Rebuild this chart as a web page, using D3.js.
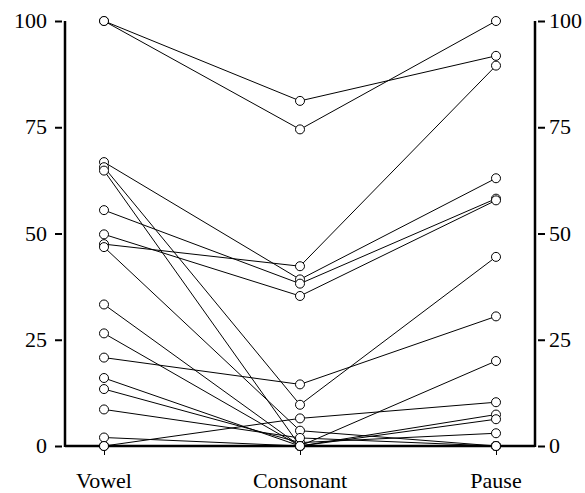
<!DOCTYPE html>
<html><head><meta charset="utf-8">
<script src="https://cdn.jsdelivr.net/npm/d3@7"></script>
</head>
<body style="margin:0;background:#fff"><svg id="c" width="585" height="493"></svg>
<script>
const categories = ["Vowel","Consonant","Pause"];
const vowel     = [100, 100, 66.8, 65.6, 64.8, 55.5, 49.8, 47.5, 46.8, 33.3, 26.5, 20.8, 16, 13.4, 8.6, 2, 0, 0, 0];
const consonant = [81.2, 74.5, 39.2, 9.7, 0, 38.2, 35.3, 42.3, 3.6, 0, 0, 14.5, 0, 0.8, 1.9, 0, 6.5, 0, 0];
const pause     = [91.8, 100, 63, 44.5, 0, 58.2, 57.8, 89.5, 0, 20, 7.4, 30.5, 6.3, 3, 0, 0, 10.3, 0, 0];
const tickValues = [0, 25, 50, 75, 100];

const FONT = "Liberation Serif";
const rows = vowel.map((v,i)=>[v, consonant[i], pause[i]]);
const svg = d3.select("#c");
const x = d3.scalePoint().domain(categories).range([104, 496]);
const y = d3.scaleLinear().domain([0,100]).range([446, 21]);
const left = 65, right = 535;

// tick marks via d3 axes (labels drawn separately)
const la = svg.append("g").attr("transform",`translate(${left-3},0)`)
  .call(d3.axisLeft(y).tickValues(tickValues).tickSize(7).tickFormat(""));
la.select(".domain").remove();
la.selectAll("line").attr("stroke","#000").attr("stroke-width",2);

const ra = svg.append("g").attr("transform",`translate(${right+3},0)`)
  .call(d3.axisRight(y).tickValues(tickValues).tickSize(7).tickFormat(""));
ra.select(".domain").remove();
ra.selectAll("line").attr("stroke","#000").attr("stroke-width",2);

const ba = svg.append("g").attr("transform",`translate(0,${y(0)})`)
  .call(d3.axisBottom(x).tickSize(9).tickFormat(""));
ba.select(".domain").remove();
ba.selectAll("line").attr("stroke","#000").attr("stroke-width",1);

// labels
svg.selectAll("text.yl").data(tickValues).join("text").attr("class","yl")
  .attr("x", left-18).attr("y", d=>y(d)+7).attr("text-anchor","end")
  .style("font-family",FONT).style("font-size","22px").text(d=>d);
svg.selectAll("text.yr").data(tickValues).join("text").attr("class","yr")
  .attr("x", right+14).attr("y", d=>y(d)+7).attr("text-anchor","start")
  .style("font-family",FONT).style("font-size","22px").text(d=>d);
svg.selectAll("text.xl").data(categories).join("text").attr("class","xl")
  .attr("x", d=>x(d)).attr("y", 488).attr("text-anchor","middle")
  .style("font-family",FONT).style("font-size","22px").text(d=>d);

// axis lines
svg.append("line").attr("x1",left).attr("x2",left).attr("y1",y(100)).attr("y2",y(0)+1).attr("stroke","#000").attr("stroke-width",2.5);
svg.append("line").attr("x1",right).attr("x2",right).attr("y1",y(100)).attr("y2",y(0)+1).attr("stroke","#000").attr("stroke-width",2.5);
svg.append("line").attr("x1",left).attr("x2",right).attr("y1",y(0)).attr("y2",y(0)).attr("stroke","#000").attr("stroke-width",2.5);

const line = d3.line().x((d,i)=>x(categories[i])).y(d=>y(d));
svg.append("g").selectAll("path").data(rows).join("path")
  .attr("d", line).attr("fill","none").attr("stroke","#000").attr("stroke-width",1);

const pts = [];
rows.forEach(r=>r.forEach((v,i)=>pts.push({c:categories[i],v})));
svg.append("g").selectAll("circle").data(pts).join("circle")
  .attr("cx",d=>x(d.c)).attr("cy",d=>y(d.v)).attr("r",4.5)
  .attr("fill","#fff").attr("stroke","#000").attr("stroke-width",1);
</script></body></html>
